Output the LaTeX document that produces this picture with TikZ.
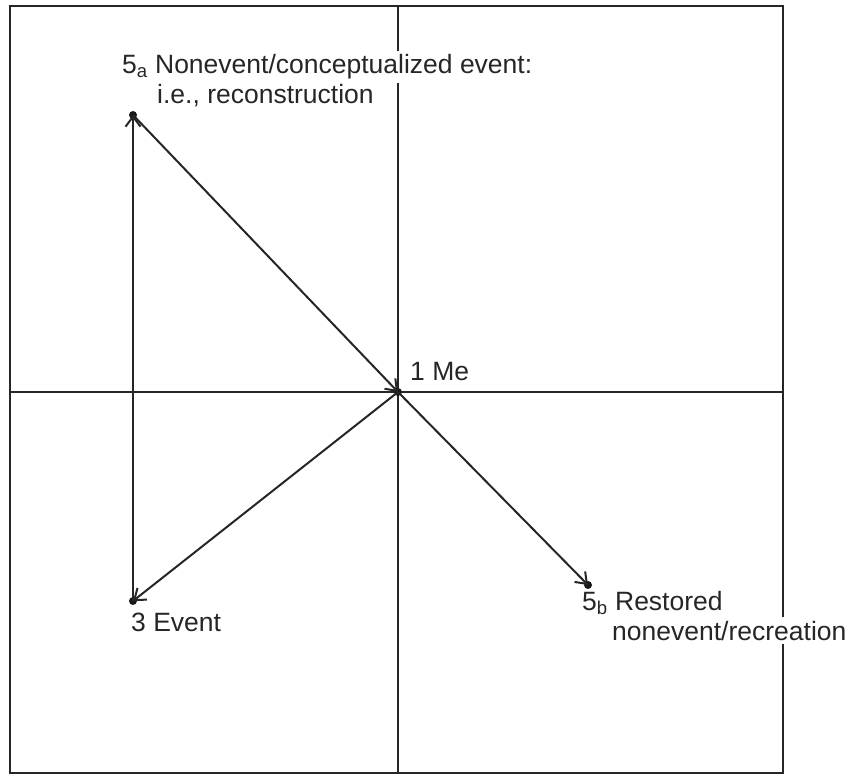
\documentclass[tikz,border=0pt]{standalone}
\usepackage{fontspec}
\setmainfont{Liberation Sans}
\usetikzlibrary{arrows.meta}
\begin{document}
\begin{tikzpicture}[x=1pt,y=-1pt,
  frame/.style={line width=2.4pt,draw=black!85},
  axis/.style={line width=2.2pt,draw=black!85},
  arr/.style={line width=2pt,draw=black!85,-{Straight Barb[length=10pt,width=15pt,line width=2pt]}},
  dot/.style={circle,fill=black!90,inner sep=0pt,minimum size=8pt},
  lbl/.style={font=\fontsize{26.5}{30}\selectfont,inner xsep=2pt,inner ysep=4pt,anchor=base west,fill=white,text=black!85}]
\useasboundingbox (0,0) rectangle (865,776);
\coordinate (tl) at (10,6);
\coordinate (br) at (783,773);
\draw[frame] (tl) rectangle (br);
\coordinate (vt) at (398,6);
\coordinate (vb) at (398,773);
\coordinate (hl) at (10,392);
\coordinate (hr) at (783,392);
\draw[axis] (vt) -- (vb);
\draw[axis] (hl) -- (hr);
\node[dot] (a) at (133,115) {};
\node[dot] (me) at (398,392) {};
\node[dot] (ev) at (133,601) {};
\node[dot] (b) at (588,585) {};
\draw[arr] (ev.center) -- (a.center);
\draw[arr] (a.center) -- (me.center);
\draw[arr] (me.center) -- (ev.center);
\draw[arr] (me.center) -- (b.center);
\node[lbl] (la) at (120,74) {5\textsubscript{a} Nonevent/conceptualized event:};
\node[lbl,fill=none] (la2) at (155,103) {i.e., reconstruction};
\node[lbl,fill=none] (lme) at (408,380) {1 Me};
\node[lbl,fill=none] (lev) at (129,631) {3 Event};
\node[lbl,fill=none] (lb) at (580,610) {5\textsubscript{b} Restored};
\node[lbl] (lb2) at (610,640) {nonevent/recreation};
\end{tikzpicture}
\end{document}
